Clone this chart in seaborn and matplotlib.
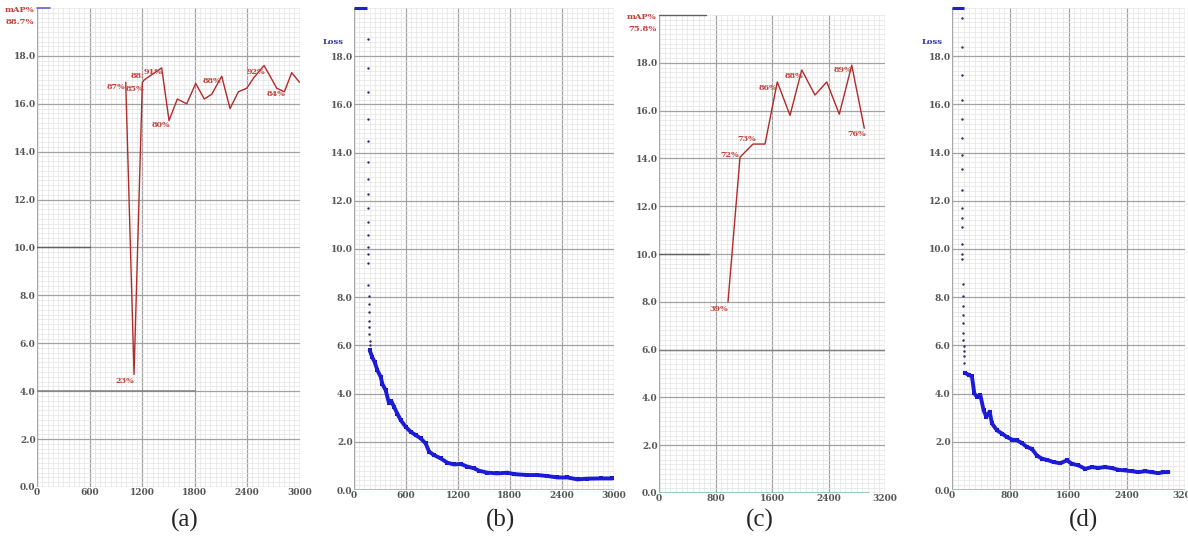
import numpy as np
import pandas as pd
import matplotlib
matplotlib.use("Agg")
import matplotlib.pyplot as plt
import seaborn as sns

# --- data (darknet training charts) ---
# (a) mAP curve, plotted on the 0..20 scale of the chart
map_a_iter = [1014, 1109, 1204, 1226, 1425, 1509, 1604, 1711, 1814, 1912, 1997,
              2111, 2206, 2301, 2397, 2480, 2595, 2740, 2827, 2911, 3000]
map_a_val = [16.9, 4.7, 16.9, 17.0, 17.5, 15.3, 16.2, 16.0, 16.85, 16.2, 16.4,
             17.15, 15.8, 16.5, 16.65, 17.1, 17.6, 16.65, 16.5, 17.3, 16.9]
# (point index, text, dx px, dy px)
map_a_labels = [(0, "87%", -10, -5), (1, "23%", -9, -7), (2, "85%", -7, -7),
                (3, "88:", -7, 4), (4, "91%", -9, -4), (5, "80%", -8, -4),
                (11, "88%", -10, -5), (16, "92%", -8, -7), (18, "84%", -8, -2)]

# (c) mAP curve
map_c_iter = [977, 1147, 1331, 1501, 1675, 1855, 2021, 2209, 2375, 2553, 2729, 2907]
map_c_val = [8.0, 14.05, 14.6, 14.6, 17.2, 15.8, 17.7, 16.65, 17.2, 15.85, 17.9, 15.26]
map_c_labels = [(0, "39%", -9, -7), (1, "72%", -10, 2), (2, "73%", -6, 5),
                (4, "86%", -9, -6), (6, "88%", -8, -6), (10, "89%", -9, -5),
                (11, "76%", -8, -6)]

# (b) loss: sparse first iterations, then the dense band
loss_b_head_iter = [158, 158, 159, 159, 160, 160, 161, 161, 162, 162, 163, 163, 164,
                    164, 166, 168, 170, 172, 174, 176, 178, 180, 181]
loss_b_head_val = [18.7, 17.5, 16.5, 15.4, 14.5, 13.6, 12.9, 12.3, 11.7, 11.1, 10.6,
                   10.1, 9.8, 9.4, 8.5, 8.07, 7.72, 7.38, 7.03, 6.76, 6.48, 6.2, 6.0]
loss_b_iter = [181, 212, 240, 270, 308, 328, 366, 405, 430, 463, 501, 540, 598, 656,
               713, 771, 829, 868, 925, 1003, 1080, 1157, 1234, 1311, 1388, 1446,
               1542, 1658, 1774, 1851, 2005, 2121, 2236, 2352, 2468, 2584, 2699,
               2853, 2988]
loss_b_val = [5.8, 5.5, 5.3, 4.97, 4.7, 4.4, 4.14, 3.6, 3.7, 3.45, 3.17, 2.9, 2.62,
              2.41, 2.28, 2.14, 1.93, 1.59, 1.45, 1.31, 1.13, 1.06, 1.08, 0.97, 0.9,
              0.8, 0.72, 0.69, 0.72, 0.66, 0.62, 0.62, 0.58, 0.52, 0.52, 0.44, 0.47,
              0.48, 0.48]

# (d) loss
loss_d_head_iter = [137, 137, 138, 138, 139, 139, 140, 140, 141, 141, 142, 142, 143,
                    143, 144, 151, 152, 153, 154, 155, 156, 157, 158, 159, 160, 161]
loss_d_head_val = [19.6, 18.4, 17.2, 16.2, 15.4, 14.6, 13.9, 13.3, 12.45, 11.7, 11.3,
                   10.9, 10.2, 9.8, 9.6, 8.54, 8.05, 7.63, 7.28, 6.94, 6.52, 6.24,
                   5.96, 5.75, 5.54, 5.26]
loss_d_iter = [183, 229, 274, 306, 343, 389, 434, 471, 517, 549, 617, 686, 754, 823,
               891, 960, 1029, 1097, 1166, 1234, 1303, 1394, 1486, 1577, 1646, 1737,
               1829, 1920, 2011, 2103, 2194, 2286, 2377, 2469, 2560, 2651, 2743,
               2834, 2903, 2971]
loss_d_val = [4.85, 4.78, 4.71, 4.01, 3.87, 3.94, 3.31, 3.04, 3.25, 2.76, 2.48, 2.34,
              2.2, 2.09, 2.06, 1.95, 1.78, 1.71, 1.43, 1.3, 1.25, 1.16, 1.11, 1.23,
              1.09, 1.02, 0.88, 0.95, 0.92, 0.95, 0.91, 0.84, 0.81, 0.78, 0.74, 0.78,
              0.74, 0.70, 0.74, 0.74]

y_ticks = [0, 2, 4, 6, 8, 10, 12, 14, 16, 18]
panel_names = ["(a)", "(b)", "(c)", "(d)"]

W, H = 1188, 540
sns.set_style("white")
fig = plt.figure(figsize=(W / 100, H / 100), dpi=100)

# axes boxes in pixels: x0, x1, ytop, ybottom
boxes = [(37, 299.5, 8, 487), (354, 613.5, 8, 490), (659, 885, 15, 493), (952, 1185, 8, 490)]
xmax = [3000, 3000, 3200, 3200]
xstep = [600, 600, 800, 800]
label_x = [185, 500, 760, 1083]

tick_font = dict(family="DejaVu Serif", weight="bold", size=6.5, color="#555555")
red = "#b22a2a"
red_txt = "#c0403a"
blue = "#1c1cd6"

axes = []
for i, (x0, x1, yt, yb) in enumerate(boxes):
    ax = fig.add_axes([x0 / W, 1 - yb / H, (x1 - x0) / W, (yb - yt) / H])
    ax.set_xlim(0, xmax[i])
    ax.set_ylim(0, 20)
    ax.set_xticks(np.arange(0, xmax[i] + 1, xstep[i]))
    ax.set_xticks(np.arange(0, xmax[i] + 1, xstep[i] / 10), minor=True)
    ax.set_yticks(y_ticks)
    ax.set_yticks(np.arange(0, 20.01, 0.2), minor=True)
    ax.set_yticklabels([f"{v:.1f}" for v in y_ticks], fontdict=tick_font)
    ax.set_xticklabels([str(v) for v in np.arange(0, xmax[i] + 1, xstep[i])], fontdict=tick_font)
    ax.tick_params(which="both", length=0, pad=1)
    ax.grid(which="minor", color="#e3e3e3", lw=0.5)
    ax.grid(which="major", color="#a2a2a2", lw=0.9)
    ax.set_axisbelow(True)
    for s in ax.spines.values():
        s.set_visible(False)
    ax.axvline(0, color="#a8a8a8", lw=0.9)
    fig.text(label_x[i] / W, 1 - 520 / H, panel_names[i], ha="center", va="center",
             fontsize=18, family="Liberation Serif")
    axes.append(ax)

ax_a, ax_b, ax_c, ax_d = axes

# mAP panels
for ax, it, val, labs, head in [(ax_a, map_a_iter, map_a_val, map_a_labels, ("mAP%", "88.7%")),
                                (ax_c, map_c_iter, map_c_val, map_c_labels, ("mAP%", "75.8%"))]:
    df = pd.DataFrame({"iter": it, "map": val})
    sns.lineplot(data=df, x="iter", y="map", ax=ax, color=red, lw=1.0, sort=False)
    for idx, txt, dx, dy in labs:
        ax.annotate(txt, (it[idx], val[idx]), xytext=(dx, dy), textcoords="offset pixels",
                    ha="center", va="center", fontsize=5.8, family="DejaVu Serif",
                    weight="bold", color=red_txt)
    ax.text(-0.01, 0.995, head[0], transform=ax.transAxes, ha="right", va="center",
            fontsize=6, family="DejaVu Serif", weight="bold", color=red_txt)
    ax.text(-0.01, 0.98, head[1], transform=ax.transAxes, ha="right", va="top",
            fontsize=6, family="DejaVu Serif", weight="bold", color=red_txt)
    ax.set_xlabel("")
    ax.set_ylabel("")

# loss panels
for ax, hi, hv, it, val in [(ax_b, loss_b_head_iter, loss_b_head_val, loss_b_iter, loss_b_val),
                            (ax_d, loss_d_head_iter, loss_d_head_val, loss_d_iter, loss_d_val)]:
    sns.scatterplot(x=hi, y=hv, ax=ax, color="#2a2a70", s=3, linewidth=0)
    df = pd.DataFrame({"iter": it, "loss": val})
    sns.lineplot(data=df, x="iter", y="loss", ax=ax, color=blue, lw=2.8)
    sns.scatterplot(data=df, x="iter", y="loss", ax=ax, color="#1414b8", s=12,
                    marker="s", linewidth=0)
    ax.text(-0.04, 0.93, "Loss", transform=ax.transAxes, ha="right", va="center",
            fontsize=6, family="DejaVu Serif", weight="bold", color="#3434a8")
    ax.plot([0, 0.05], [1.0, 1.0], transform=ax.transAxes, color="#2020c8", lw=2.2,
            clip_on=False, solid_capstyle="butt")
    ax.set_xlabel("")
    ax.set_ylabel("")

# bottom axis lines and small top marks seen in the screenshots
ax_b.axhline(0, color="#88c4aa", lw=1.2)
ax_d.axhline(0, color="#88c4aa", lw=1.2)
ax_c.axhline(0, xmin=0, xmax=0.93, color="#88c4aa", lw=1.2)
ax_a.plot([0, 0.05], [1.0, 1.0], transform=ax_a.transAxes, color="#6a5acd", lw=1.2, clip_on=False)
ax_c.plot([0, 0.21], [1.0, 1.0], transform=ax_c.transAxes, color="#606060", lw=1.0, clip_on=False)
ax_a.axhline(10, xmin=0, xmax=0.2, color="#606060", lw=1.0)
ax_a.axhline(4, xmin=0, xmax=0.6, color="#808080", lw=1.1)
ax_c.axhline(10, xmin=0, xmax=0.22, color="#606060", lw=1.0)
ax_c.axhline(6, color="#808080", lw=1.0)

fig.savefig("out.png", dpi=100)
